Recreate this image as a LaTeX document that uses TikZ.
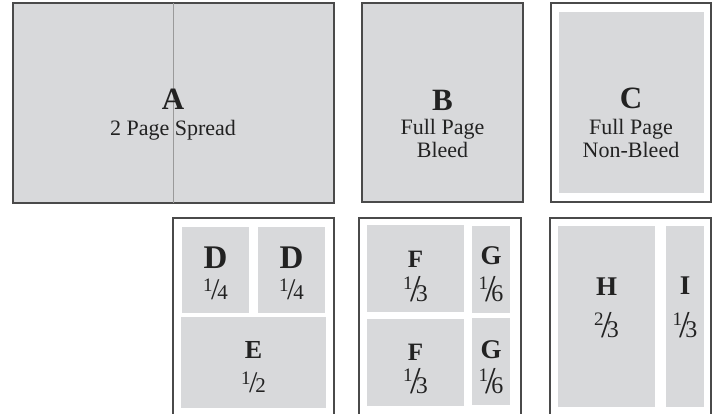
\documentclass[tikz,border=0pt]{standalone}
\usepackage{fontspec}
\setmainfont{Liberation Serif}

\definecolor{panelgray}{HTML}{D8D9DB}
\definecolor{framegray}{HTML}{4A4A4A}
\definecolor{foldgray}{HTML}{9A9A9A}
\definecolor{inkgray}{HTML}{222222}

% small fractions, two looks as in the ad sheet
\newcommand{\fracq}[2]{\raisebox{8pt}{\fontsize{19}{19}\selectfont#1}\kern-1.5pt{\fontsize{30}{30}\selectfont/}\kern-2pt{\fontsize{21}{21}\selectfont#2}}
\newcommand{\fract}[2]{\raisebox{12pt}{\fontsize{19}{19}\selectfont#1}\kern-2.5pt{\fontsize{38}{38}\selectfont/}\kern-5pt{\fontsize{24}{24}\selectfont#2}}

\tikzset{
  frame/.style={draw=framegray, line width=1.6pt},
  panel/.style={fill=panelgray},
  fold/.style={draw=foldgray, line width=0.9pt},
  title/.style={font=\fontsize{#1}{#1}\selectfont\bfseries, text=inkgray, inner sep=0pt, anchor=base},
  title/.default=31,
  caption/.style={font=\fontsize{22}{22}\selectfont, text=inkgray, inner sep=0pt, anchor=base},
  share/.style={text=inkgray, inner sep=0pt, anchor=base}
}

\begin{document}
\begin{tikzpicture}[x=1pt, y=-1pt]
  \useasboundingbox (0,0) rectangle (717,414);

  % top row: spread, bleed, non-bleed
  \draw[frame, fill=panelgray] (13,3) rectangle (334,203);
  \draw[fold] (173,3) -- (173,203);
  \node[title] (atitle) at (173,110) {A};
  \node[caption] (acap) at (173,136) {2 Page Spread};

  \draw[frame, fill=panelgray] (362,3) rectangle (523,202);
  \node[title] (btitle) at (442.5,111) {B};
  \node[caption] (bcapa) at (442.5,135) {Full Page};
  \node[caption] (bcapb) at (442.5,158) {Bleed};

  \draw[frame, fill=white] (551,3) rectangle (711,202);
  \fill[panel] (559,12) rectangle (704,193);
  \node[title] (ctitle) at (631,109) {C};
  \node[caption] (ccapa) at (631,135) {Full Page};
  \node[caption] (ccapb) at (631,158) {Non-Bleed};

  % bottom row: open pages
  \draw[frame] (173,414) |- (334,218) -- (334,414);
  \draw[frame] (359,414) |- (521,218) -- (521,414);
  \draw[frame] (550,414) |- (711,218) -- (711,414);

  % quarters and half
  \fill[panel] (182,227) rectangle (249,313);
  \fill[panel] (258,227) rectangle (325,313);
  \fill[panel] (181,317) rectangle (326,408);
  \node[title=33] (dtitlea) at (215.5,268) {D};
  \node[share] (dsharea) at (215.5,299) {\fracq{1}{4}};
  \node[title=33] (dtitleb) at (291.5,268) {D};
  \node[share] (dshareb) at (291.5,299) {\fracq{1}{4}};
  \node[title=26] (etitle) at (253.5,358) {E};
  \node[share] (eshare) at (253.5,392) {\fracq{1}{2}};

  % thirds and sixths
  \fill[panel] (367,225) rectangle (464,312);
  \fill[panel] (472,226) rectangle (510,313);
  \fill[panel] (367,319) rectangle (464,406);
  \fill[panel] (472,318) rectangle (510,405);
  \node[title=25] (ftitlea) at (415.5,267) {F};
  \node[share] (fsharea) at (415.5,301) {\fract{1}{3}};
  \node[title=27] (gtitlea) at (491,264) {G};
  \node[share] (gsharea) at (491,301) {\fract{1}{6}};
  \node[title=25] (ftitleb) at (415.5,360) {F};
  \node[share] (fshareb) at (415.5,393) {\fract{1}{3}};
  \node[title=27] (gtitleb) at (491,358) {G};
  \node[share] (gshareb) at (491,393) {\fract{1}{6}};

  % two thirds and one third
  \fill[panel] (558,226) rectangle (655,407);
  \fill[panel] (666,226) rectangle (704,407);
  \node[title=27] (htitle) at (606.5,295) {H};
  \node[share] (hshare) at (606.5,337) {\fract{2}{3}};
  \node[title=27] (ititle) at (685,294) {I};
  \node[share] (ishare) at (685,337) {\fract{1}{3}};
\end{tikzpicture}
\end{document}
